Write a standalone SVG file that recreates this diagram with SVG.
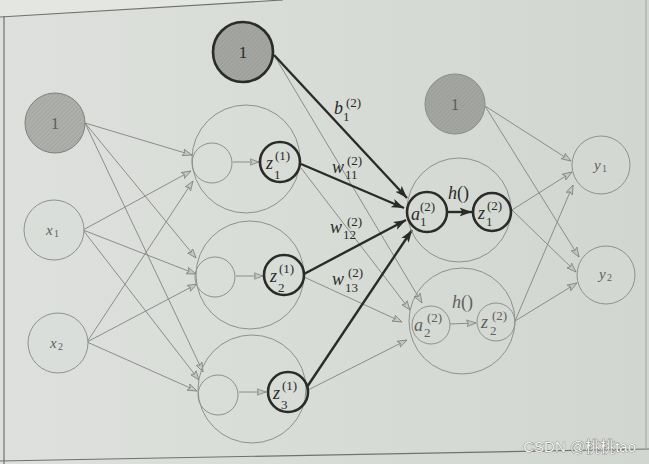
<svg xmlns="http://www.w3.org/2000/svg" width="649" height="464" viewBox="0 0 649 464">
<defs>
<linearGradient id="bg" x1="0" y1="0" x2="1" y2="0">
<stop offset="0" stop-color="#dde0dc"/>
<stop offset="0.5" stop-color="#d8dcd7"/>
<stop offset="1" stop-color="#d2d6d1"/>
</linearGradient>
<pattern id="hatch" patternUnits="userSpaceOnUse" width="3" height="3" patternTransform="rotate(45)">
<rect width="3" height="3" fill="#aeb0ac"/>
<line x1="0" y1="0" x2="0" y2="3" stroke="#989a96" stroke-width="1"/>
</pattern>
<pattern id="hatch2" patternUnits="userSpaceOnUse" width="3" height="3" patternTransform="rotate(45)">
<rect width="3" height="3" fill="#a4a6a2"/>
<line x1="0" y1="0" x2="0" y2="3" stroke="#959793" stroke-width="1"/>
</pattern>
<marker id="ta" markerUnits="userSpaceOnUse" markerWidth="11" markerHeight="9" refX="9.5" refY="4" orient="auto">
<path d="M0,0.6 L9.5,4 L0,7.4 L2,4 z" fill="#c4c7c2" stroke="#7f827e" stroke-width="0.8"/>
</marker>
<marker id="ka" markerUnits="userSpaceOnUse" markerWidth="14" markerHeight="10" refX="12.5" refY="5" orient="auto">
<path d="M0,0.6 L12.5,5 L0,9.4 L3,5 z" fill="#2a2a28"/>
</marker>
<style>
.big{fill:none;stroke:#8e918d;stroke-width:1}
.thin{fill:none;stroke:#8e918d;stroke-width:1}
.thick{fill:none;stroke:#2b2b29;stroke-width:2.6}
.tl{fill:none;stroke:#8a8d89;stroke-width:1;marker-end:url(#ta)}
.kl{fill:none;stroke:#2b2b29;stroke-width:2.4;marker-end:url(#ka)}
.mi{font-family:"Liberation Serif","DejaVu Serif",serif;font-style:italic}
.up{font-family:"Liberation Serif","DejaVu Serif",serif}
.dk{fill:#2b2b29}
.gr{fill:#5d605c}
.lb{font-size:18px}
.sm{font-size:13px}
</style>
</defs>
<rect width="649" height="464" fill="url(#bg)"/>
<polygon points="0,0 283,0 0,17" fill="#e4e6e2"/>
<g id="frame" fill="none" stroke="#6f726e" stroke-width="1.2">
<line x1="0" y1="17" x2="283" y2="0"/>
<line x1="4" y1="16" x2="4" y2="464"/>
<line x1="0" y1="461" x2="649" y2="449"/>
<line x1="646" y1="0" x2="646" y2="449" stroke="#a8aba7"/>
</g>

<g id="connectors">
<line class="tl" x1="85" y1="123" x2="192" y2="155"/>
<line class="tl" x1="85" y1="123" x2="196" y2="258"/>
<line class="tl" x1="85" y1="123" x2="203" y2="372"/>
<line class="tl" x1="83" y1="230" x2="191" y2="171"/>
<line class="tl" x1="83" y1="230" x2="196" y2="274"/>
<line class="tl" x1="83" y1="230" x2="199" y2="380"/>
<line class="tl" x1="87" y1="342" x2="193" y2="181"/>
<line class="tl" x1="87" y1="342" x2="197" y2="284"/>
<line class="tl" x1="87" y1="342" x2="197" y2="391"/>
<line class="tl" x1="233" y1="162" x2="259" y2="162"/>
<line class="tl" x1="236" y1="276" x2="263" y2="276"/>
<line class="tl" x1="239" y1="392" x2="266" y2="392"/>
<line class="tl" x1="274" y1="55" x2="422" y2="303"/>
<line class="tl" x1="301" y1="168" x2="410" y2="310"/>
<line class="tl" x1="304" y1="277" x2="402" y2="322"/>
<line class="tl" x1="308" y1="390" x2="407" y2="340"/>
<line class="kl" x1="274" y1="55" x2="407" y2="198"/>
<line class="kl" x1="301" y1="164" x2="404" y2="208"/>
<line class="kl" x1="304" y1="274" x2="406" y2="220"/>
<line class="kl" x1="307" y1="387" x2="412" y2="230"/>
<line class="kl" x1="447" y1="212" x2="472" y2="212"/>
<line class="tl" x1="450" y1="324" x2="476" y2="323"/>
<line class="tl" x1="485" y1="106" x2="571" y2="161"/>
<line class="tl" x1="485" y1="106" x2="579" y2="257"/>
<line class="tl" x1="512" y1="210" x2="572" y2="172"/>
<line class="tl" x1="512" y1="210" x2="576" y2="272"/>
<line class="tl" x1="515" y1="321" x2="573" y2="185"/>
<line class="tl" x1="515" y1="321" x2="577" y2="283"/>
</g>

<g id="edge-labels" class="dk">
<text class="mi lb" x="334" y="114">b</text>
<text class="up sm" x="346" y="107">(2)</text>
<text class="up sm" x="343" y="121">1</text>
<text class="mi lb" x="332" y="173">w</text>
<text class="up sm" x="347" y="165">(2)</text>
<text class="up sm" x="345" y="179">11</text>
<text class="mi lb" x="330" y="233">w</text>
<text class="up sm" x="347" y="226">(2)</text>
<text class="up sm" x="343" y="239">12</text>
<text class="mi lb" x="332" y="285">w</text>
<text class="up sm" x="348" y="277">(2)</text>
<text class="up sm" x="345" y="292">13</text>
<text class="mi lb" x="448" y="199">h</text>
<text class="up lb" x="457" y="199">()</text>
<text class="mi lb gr" x="452" y="308">h</text>
<text class="up lb gr" x="461" y="308">()</text>
</g>

<g id="input-bias">
<circle cx="55" cy="123" r="30" fill="url(#hatch)" stroke="#7d807c" stroke-width="1"/>
<text class="up gr" x="55" y="129" font-size="17" text-anchor="middle">1</text>
</g>
<g id="x1">
<circle cx="54" cy="230" r="30" fill="#dadeda" stroke="#8e918d" stroke-width="1"/>
<text class="mi gr" x="46" y="235" font-size="15">x</text>
<text class="up gr" x="54" y="237" font-size="10">1</text>
</g>
<g id="x2">
<circle cx="58" cy="343" r="30" fill="#dadeda" stroke="#8e918d" stroke-width="1"/>
<text class="mi gr" x="50" y="348" font-size="15">x</text>
<text class="up gr" x="58" y="350" font-size="10">2</text>
</g>

<g id="bias1">
<circle cx="243" cy="52" r="30" fill="url(#hatch2)" stroke="#2b2b29" stroke-width="2.6"/>
<text class="up dk" x="243" y="58" font-size="17" text-anchor="middle">1</text>
</g>

<g id="hidden1">
<circle class="big" cx="246" cy="159" r="54"/>
<circle class="thin" cx="212" cy="163" r="20"/>
<circle class="thick" cx="280" cy="162" r="20"/>
<text class="mi lb dk" x="266" y="169">z</text>
<text class="up sm dk" x="275" y="160">(1)</text>
<text class="up sm dk" x="274" y="179">1</text>
</g>
<g id="hidden2">
<circle class="big" cx="250" cy="275" r="54"/>
<circle class="thin" cx="215" cy="277" r="20"/>
<circle class="thick" cx="284" cy="275" r="20"/>
<text class="mi lb dk" x="270" y="282">z</text>
<text class="up sm dk" x="279" y="273">(1)</text>
<text class="up sm dk" x="278" y="292">2</text>
</g>
<g id="hidden3">
<circle class="big" cx="252" cy="389" r="54"/>
<circle class="thin" cx="218" cy="395" r="20"/>
<circle class="thick" cx="288" cy="392" r="20"/>
<text class="mi lb dk" x="273" y="399">z</text>
<text class="up sm dk" x="282" y="390">(1)</text>
<text class="up sm dk" x="281" y="409">3</text>
</g>

<g id="bias2">
<circle cx="455" cy="104" r="30" fill="url(#hatch2)" stroke="#8a8d89" stroke-width="1"/>
<text class="up gr" x="455" y="110" font-size="17" text-anchor="middle">1</text>
</g>

<g id="layer2-unit1">
<circle class="big" cx="459" cy="210" r="52"/>
<circle class="thick" cx="427" cy="212" r="20"/>
<text class="mi lb dk" x="411" y="220">a</text>
<text class="up sm dk" x="420" y="211">(2)</text>
<text class="up sm dk" x="420" y="226">1</text>
<circle class="thick" cx="492" cy="212" r="19"/>
<text class="mi lb dk" x="478" y="219">z</text>
<text class="up sm dk" x="487" y="210">(2)</text>
<text class="up sm dk" x="486" y="226">1</text>
</g>
<g id="layer2-unit2">
<circle class="big" cx="462" cy="321" r="53"/>
<circle class="thin" cx="431" cy="325" r="19"/>
<text class="mi lb gr" x="414" y="331">a</text>
<text class="up sm gr" x="427" y="322">(2)</text>
<text class="up sm gr" x="424" y="337">2</text>
<circle class="thin" cx="496" cy="322" r="19"/>
<text class="mi lb gr" x="481" y="328">z</text>
<text class="up sm gr" x="492" y="320">(2)</text>
<text class="up sm gr" x="490" y="335">2</text>
</g>

<g id="y1">
<circle cx="601" cy="165" r="29" fill="#d4d8d3" stroke="#8e918d" stroke-width="1"/>
<text class="mi gr" x="594" y="170" font-size="15">y</text>
<text class="up gr" x="602" y="172" font-size="10">1</text>
</g>
<g id="y2">
<circle cx="606" cy="275" r="29" fill="#d4d8d3" stroke="#8e918d" stroke-width="1"/>
<text class="mi gr" x="599" y="279" font-size="15">y</text>
<text class="up gr" x="607" y="281" font-size="10">2</text>
</g>

<text x="636" y="452" text-anchor="end" font-family="'Liberation Sans','Noto Sans CJK SC',sans-serif" font-size="15" fill="#f6f7f5" stroke="#5f625e" stroke-width="0.7" paint-order="stroke">CSDN @桃桃tao</text>
</svg>
